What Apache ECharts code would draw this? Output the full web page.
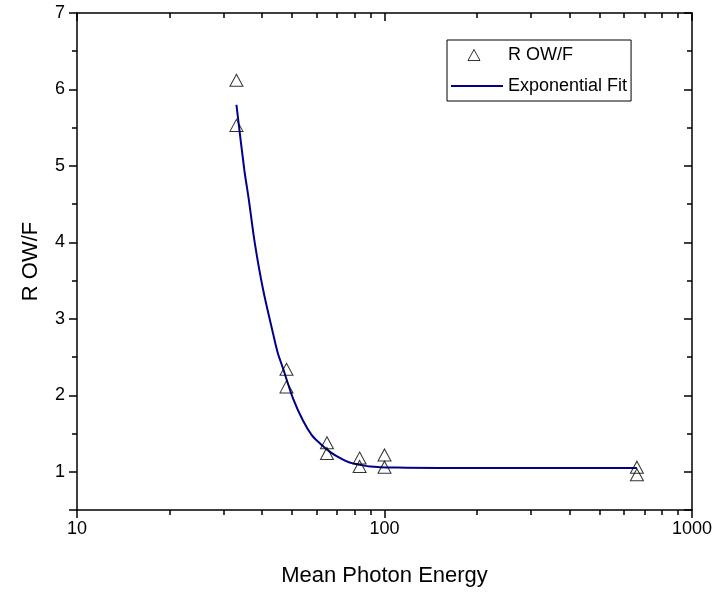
<!DOCTYPE html>
<html>
<head>
<meta charset="utf-8">
<script src="https://cdn.jsdelivr.net/npm/echarts@6/dist/echarts.min.js"></script>
<style>
  html, body { margin: 0; padding: 0; background: #fff; }
  #chart { width: 718px; height: 592px; }
</style>
</head>
<body>
<div id="chart"></div>
<script>
// measured points (energy, ratio)
const energy = [33, 33, 48, 48, 65, 65, 83, 83, 100, 100, 662, 662];
const ratio = [6.12, 5.53, 2.34, 2.11, 1.38, 1.24, 1.18, 1.07, 1.22, 1.06, 1.06, 0.96];

// fit curve
const fitX = [33, 35, 36.2, 37.9, 40.3, 43.4, 45, 46.7, 50.4, 54.3, 58, 61.7, 66, 70.1, 75, 79, 89.8, 110, 150, 250, 400, 662];
const fitY = [5.80, 4.95, 4.56, 3.98, 3.38, 2.81, 2.55, 2.36, 1.96, 1.67, 1.48, 1.37, 1.27, 1.20, 1.14, 1.11, 1.07, 1.055, 1.05, 1.05, 1.05, 1.05];

const font = 'Arial, "Liberation Sans", sans-serif';
const black = '#000';

const chart = echarts.init(document.getElementById('chart'));

const logAxis = (pos, inside, labels) => ({
  type: 'log',
  logBase: 10,
  position: pos,
  min: 10,
  max: 1000,
  name: labels ? 'Mean Photon Energy' : '',
  nameLocation: 'middle',
  nameGap: 55,
  nameTextStyle: { fontFamily: font, fontSize: 22, color: black },
  axisLine: { show: true, onZero: false, lineStyle: { color: black, width: 1.5 } },
  axisTick: { show: true, inside, length: 8, lineStyle: { color: black, width: 1.5 } },
  minorTick: { show: true, splitNumber: 9, length: 5, lineStyle: { color: black, width: 1.5 } },
  axisLabel: { show: labels, fontFamily: font, fontSize: 18, color: black, margin: 10, formatter: v => String(Math.round(v)) },
  splitLine: { show: false },
  minorSplitLine: { show: false }
});

// y axis: major ticks (auto interval 1 from min 0.5) and half-step minor ticks
const yMajor = (pos, inside, labels) => ({
  type: 'value',
  position: pos,
  min: 0.5,
  max: 7,
  splitNumber: 6,
  name: labels ? 'R OW/F' : '',
  nameLocation: 'middle',
  nameGap: 35,
  nameTextStyle: { fontFamily: font, fontSize: 22, color: black },
  axisLine: { show: true, onZero: false, lineStyle: { color: black, width: 1.5 } },
  axisTick: { show: true, inside, length: 8, lineStyle: { color: black, width: 1.5 } },
  axisLabel: {
    show: labels, fontFamily: font, fontSize: 18, color: black, margin: 12,
    formatter: v => (Number.isInteger(v) ? String(v) : '')
  },
  splitLine: { show: false }
});
const yMinor = (pos, inside) => ({
  type: 'value',
  position: pos,
  min: 0.5,
  max: 7,
  interval: 0.5,
  axisLine: { show: false },
  axisTick: { show: true, inside, length: 5, lineStyle: { color: black, width: 1.5 } },
  axisLabel: { show: false },
  splitLine: { show: false }
});

chart.setOption({
  backgroundColor: '#fff',
  animation: false,
  grid: { left: 77, right: 26, top: 13, bottom: 81 },
  legend: {
    orient: 'vertical',
    left: 447,
    top: 40,
    width: 214,
    padding: [5, 4, 5, 3],
    itemGap: 11,
    itemWidth: 52,
    itemHeight: 14,
    borderColor: black,
    borderWidth: 1,
    backgroundColor: '#fff',
    textStyle: { fontFamily: font, fontSize: 18, color: black, lineHeight: 20 },
    data: [
      {
        name: 'R OW/F',
        icon: 'path://M0 0M52 14M17 12.5L23 1.5L29 12.5Z',
        itemStyle: { color: 'rgba(0,0,0,0)', borderColor: black, borderWidth: 1 }
      },
      { name: 'Exponential Fit', itemStyle: { opacity: 0 } }
    ]
  },
  xAxis: [logAxis('bottom', false, true), logAxis('top', true, false)],
  yAxis: [
    yMajor('left', false, true),
    yMinor('left', false),
    yMajor('right', true, false),
    yMinor('right', true)
  ],
  series: [
    {
      name: 'Exponential Fit',
      type: 'line',
      data: fitX.map((x, i) => [x, fitY[i]]),
      smooth: 0.3,
      showSymbol: false,
      lineStyle: { color: '#00008b', width: 2 },
      itemStyle: { color: '#00008b' },
      z: 2
    },
    {
      name: 'R OW/F',
      type: 'scatter',
      data: energy.map((x, i) => [x, ratio[i]]),
      symbol: 'triangle',
      symbolSize: [13, 12],
      itemStyle: { color: 'rgba(0,0,0,0)', borderColor: black, borderWidth: 1 },
      z: 3
    }
  ]
});
</script>
</body>
</html>
